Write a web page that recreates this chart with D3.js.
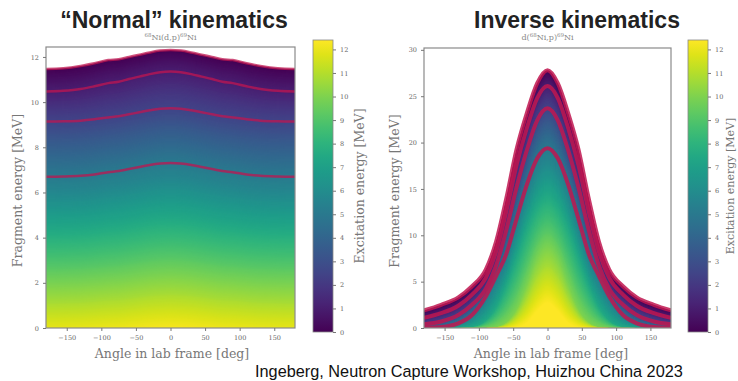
<!DOCTYPE html>
<html>
<head>
<meta charset="utf-8">
<script src="https://cdn.jsdelivr.net/npm/d3@7"></script>
<style>
  body { margin: 0; background: #fff; }
  svg { display: block; }
  .serif { font-family: "DejaVu Serif", "Liberation Serif", serif; }
</style>
</head>
<body>
<svg id="fig" width="738" height="381"></svg>
<script>
// angles (deg) where the curves were read; the panels are symmetric, so only 0..180 is kept
const angles = [0, 15, 30, 45, 60, 75, 90, 110, 130, 155, 180];

// "Normal" kinematics: fragment energy [MeV] per excitation level
const normalLevels = [0, 1.05, 2.55, 5.05, 12.4];
const normalGs   = [12.31, 12.28, 12.20, 12.10, 12.00, 11.90, 11.86, 11.72, 11.60, 11.50, 11.47];
const normalEx1  = [11.35, 11.32, 11.24, 11.13, 11.02, 10.90, 10.84, 10.70, 10.58, 10.50, 10.47];
const normalEx2  = [9.73, 9.71, 9.64, 9.55, 9.46, 9.37, 9.32, 9.24, 9.18, 9.15, 9.14];
const normalEx3  = [7.30, 7.28, 7.22, 7.13, 7.04, 6.95, 6.90, 6.80, 6.74, 6.71, 6.70];
const normalTop  = [-0.10, -0.12, -0.15, -0.20, -0.25, -0.30, -0.32, -0.36, -0.40, -0.42, -0.43];

// Inverse kinematics
const inverseLevels = [0, 1.05, 2.55, 5.05, 7.5, 10, 12.4];
const inverseGs   = [27.8, 26.4, 23.2, 19.3, 14.0, 9.3, 6.3, 4.5, 3.3, 2.5, 1.9];
const inverseEx1  = [26.1, 24.8, 21.6, 17.6, 12.6, 8.2, 5.4, 3.6, 2.4, 1.6, 1.1];
const inverseEx2  = [23.7, 22.4, 19.2, 15.2, 10.6, 6.7, 4.2, 2.5, 1.4, 0.7, 0.4];
const inverseEx3  = [19.4, 18.3, 15.5, 11.8, 8.0, 5.6, 3.4, 1.4, 0.5, 0.1, 0.0];
const inverseEx4  = [14.2, 13.2, 10.8, 7.6, 4.6, 2.2, 0.8, 0.1, 0.0, 0.0, 0.0];
const inverseEx5  = [8.6, 7.4, 4.6, 2.0, 0.6, 0.1, 0.0, 0.0, 0.0, 0.0, 0.0];
const inverseTop  = [2.8, 1.9, 0.6, 0.1, 0.0, 0.0, 0.0, 0.0, 0.0, 0.0, 0.0];

// states drawn as red lines
const markedStates = [0, 1.05, 2.55, 5.05];

const xTicks = [-150, -100, -50, 0, 50, 100, 150];
const normalYTicks = [0, 2, 4, 6, 8, 10, 12];
const inverseYTicks = [0, 5, 10, 15, 20, 25, 30];
const cbarTicks = d3.range(0, 13);
const exMax = 12.4;

const svg = d3.select("#fig");
const defs = svg.append("defs");

// viridis gradient for the colour bars
const grad = defs.append("linearGradient").attr("id", "vir")
  .attr("x1", 0).attr("y1", 1).attr("x2", 0).attr("y2", 0);
d3.range(0, 1.0001, 0.05).forEach(t => {
  grad.append("stop").attr("offset", t).attr("stop-color", d3.interpolateViridis(t));
});

function curveFor(levels, curves, ex) {
  let i = 0;
  while (i < levels.length - 2 && ex > levels[i + 1]) i++;
  const t = (ex - levels[i]) / (levels[i + 1] - levels[i]);
  const half = angles.map((a, k) => [a, curves[i][k] + (curves[i + 1][k] - curves[i][k]) * t]);
  const left = half.slice(1).reverse().map(d => [-d[0], d[1]]);
  return left.concat(half);
}

function panel(p) {
  const x = d3.scaleLinear().domain([-180, 180]).range(p.xr);
  const y = d3.scaleLinear().domain(p.yd).range(p.yr);

  defs.append("clipPath").attr("id", p.id + "clip")
    .append("rect").attr("x", p.xr[0]).attr("y", p.yr[1])
    .attr("width", p.xr[1] - p.xr[0]).attr("height", p.yr[0] - p.yr[1]);

  const g = svg.append("g").attr("clip-path", `url(#${p.id}clip)`);

  const area = d3.area().curve(d3.curveMonotoneX)
    .x(d => x(d[0])).y0(p.yr[0] + 5).y1(d => y(d[1]));
  const line = d3.line().curve(d3.curveMonotoneX)
    .x(d => x(d[0])).y(d => y(d[1]));

  // colour field: one band per step of excitation energy, outermost first
  d3.range(0, exMax + 0.001, 0.05).forEach(ex => {
    g.append("path")
      .attr("d", area(curveFor(p.levels, p.curves, ex)))
      .attr("fill", d3.interpolateViridis(ex / exMax));
  });

  markedStates.forEach(ex => {
    g.append("path")
      .attr("d", line(curveFor(p.levels, p.curves, ex)))
      .attr("fill", "none")
      .attr("stroke", "#bf1650")
      .attr("stroke-opacity", p.lo)
      .attr("stroke-width", p.lw);
  });

  // frame
  svg.append("rect")
    .attr("x", p.xr[0]).attr("y", p.yr[1])
    .attr("width", p.xr[1] - p.xr[0]).attr("height", p.yr[0] - p.yr[1])
    .attr("fill", "none").attr("stroke", "#8a8a8a").attr("stroke-width", 1.2);

  const ax = svg.append("g").attr("class", "serif")
    .attr("transform", `translate(0,${p.yr[0]})`)
    .call(d3.axisBottom(x).tickValues(xTicks).tickSize(3).tickPadding(4));
  const ay = svg.append("g").attr("class", "serif")
    .attr("transform", `translate(${p.xr[0]},0)`)
    .call(d3.axisLeft(y).tickValues(p.yTicks).tickSize(3).tickPadding(4));
  [ax, ay].forEach(a => {
    a.select(".domain").remove();
    a.selectAll("line").attr("stroke", "#777");
    a.selectAll("text").attr("fill", "#666").style("font-size", "6.5px");
  });

  svg.append("text").attr("class", "serif")
    .attr("x", p.xlab).attr("y", 358).attr("text-anchor", "middle")
    .attr("fill", "#777").style("font-size", "12.5px")
    .text("Angle in lab frame [deg]");
  svg.append("text").attr("class", "serif")
    .attr("transform", `translate(${p.ylabX},${(p.yr[0] + p.yr[1]) / 2 + 3}) rotate(-90)`)
    .attr("text-anchor", "middle")
    .attr("fill", "#777").style("font-size", "12.5px")
    .text("Fragment energy [MeV]");

  // colour bar
  const cy = d3.scaleLinear().domain([0, exMax]).range([332, 40]);
  svg.append("rect").attr("x", p.cb).attr("y", 40).attr("width", 20).attr("height", 292)
    .attr("fill", "url(#vir)").attr("stroke", "#888").attr("stroke-width", 0.8);
  const ac = svg.append("g").attr("class", "serif")
    .attr("transform", `translate(${p.cb + 20},0)`)
    .call(d3.axisRight(cy).tickValues(cbarTicks).tickSize(3).tickPadding(4));
  ac.select(".domain").remove();
  ac.selectAll("line").attr("stroke", "#777");
  ac.selectAll("text").attr("fill", "#666").style("font-size", "6.5px");
  svg.append("text").attr("class", "serif")
    .attr("transform", `translate(${p.cbl},186) rotate(-90)`)
    .attr("text-anchor", "middle")
    .attr("fill", "#777").style("font-size", p.cbf)
    .text("Excitation energy [MeV]");

  // titles
  svg.append("text")
    .attr("x", p.tx).attr("y", 28).attr("text-anchor", "middle")
    .style("font-family", "'Liberation Sans', Arial, sans-serif")
    .style("font-weight", "bold").style("font-size", "23px").attr("fill", "#222")
    .text(p.title);
  const sub = svg.append("text").attr("class", "serif")
    .attr("x", (p.xr[0] + p.xr[1]) / 2).attr("y", 40).attr("text-anchor", "middle")
    .attr("fill", "#888").style("font-size", "8px");
  p.sub.forEach(s => {
    sub.append("tspan").attr("baseline-shift", s[1] ? "super" : null)
      .style("font-size", s[1] ? "5.5px" : null).text(s[0]);
  });
}

panel({
  id: "n", xr: [46, 295], yr: [328, 47], yd: [0, 12.44], yTicks: normalYTicks,
  levels: normalLevels, curves: [normalGs, normalEx1, normalEx2, normalEx3, normalTop],
  lw: 2.5, lo: 0.75, xlab: 172, ylabX: 22, cb: 313, cbl: 364, cbf: "12.5px",
  tx: 174, title: "\u201cNormal\u201d kinematics",
  sub: [["68", 1], ["Ni(d,p)", 0], ["69", 1], ["Ni", 0]]
});

panel({
  id: "i", xr: [424, 671], yr: [328, 48], yd: [0, 30.2], yTicks: inverseYTicks,
  levels: inverseLevels,
  curves: [inverseGs, inverseEx1, inverseEx2, inverseEx3, inverseEx4, inverseEx5, inverseTop],
  lw: 4, lo: 0.85, xlab: 551, ylabX: 399, cb: 688, cbl: 734, cbf: "11px",
  tx: 577, title: "Inverse kinematics",
  sub: [["d(", 0], ["68", 1], ["Ni,p)", 0], ["69", 1], ["Ni", 0]]
});

svg.append("text")
  .attr("x", 255).attr("y", 377)
  .style("font-family", "'Liberation Sans', Arial, sans-serif")
  .style("font-size", "16.3px").attr("fill", "#111")
  .text("Ingeberg, Neutron Capture Workshop, Huizhou China 2023");
</script>
</body>
</html>
